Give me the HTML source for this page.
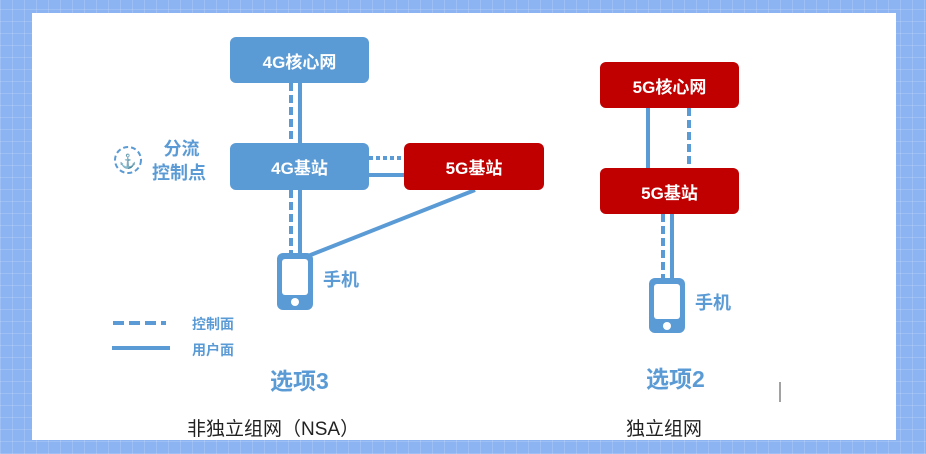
<!DOCTYPE html>
<html><head><meta charset="utf-8"><style>
body{margin:0;width:926px;height:454px;overflow:hidden;background:#8fb5f0;font-family:"Liberation Sans","Noto Sans CJK SC",sans-serif;}
.bg{position:absolute;inset:0;background:
repeating-linear-gradient(0deg,rgba(255,255,255,.15) 0 1px,transparent 1px 12px),
repeating-linear-gradient(90deg,rgba(255,255,255,.15) 0 1px,transparent 1px 12px),#8db4f2;}
.panel{position:absolute;left:32px;top:13px;width:864px;height:427px;background:#fff;}
.box{position:absolute;border-radius:6px;color:#fff;font-weight:bold;font-size:17px;display:flex;align-items:center;justify-content:center;}
.b{background:#5b9bd5}.r{background:#c00000}
.t{position:absolute;color:#5b9bd5;font-weight:bold;white-space:nowrap}
</style></head><body>
<div class="bg"></div>
<div class="panel"></div>
<svg width="926" height="454" style="position:absolute;left:0;top:0">
<g stroke="#5b9bd5" stroke-width="4" fill="none">
<line x1="291" y1="83" x2="291" y2="143" stroke-dasharray="8 4"/>
<line x1="300" y1="83" x2="300" y2="143"/>
<line x1="291" y1="190" x2="291" y2="254" stroke-dasharray="8 4"/>
<line x1="300" y1="190" x2="300" y2="254"/>
<line x1="369" y1="158" x2="404" y2="158" stroke-dasharray="4 3"/>
<line x1="369" y1="175" x2="404" y2="175"/>
<line x1="475" y1="190" x2="308" y2="256"/>
<line x1="648" y1="108" x2="648" y2="168"/>
<line x1="689" y1="108" x2="689" y2="168" stroke-dasharray="8 4"/>
<line x1="663" y1="214" x2="663" y2="280" stroke-dasharray="8 4"/>
<line x1="672" y1="214" x2="672" y2="280"/>
<line x1="113" y1="323" x2="166" y2="323" stroke-dasharray="11 5"/>
<line x1="112" y1="348" x2="170" y2="348"/>
<circle cx="128" cy="160" r="13" stroke-width="2" stroke-dasharray="5 3"/>
</g>
<rect x="277" y="253" width="36" height="57" rx="6" fill="#5b9bd5"/>
<rect x="282" y="259" width="26" height="36" rx="3" fill="#fff"/>
<circle cx="295" cy="302" r="4" fill="#fff"/>
<rect x="649" y="278" width="36" height="55" rx="6" fill="#5b9bd5"/>
<rect x="654" y="284" width="26" height="35" rx="3" fill="#fff"/>
<circle cx="667" cy="326" r="4" fill="#fff"/>
<text x="128" y="166" font-size="14" fill="#a9a0d8" text-anchor="middle">⚓</text>
<line x1="780" y1="382" x2="780" y2="402" stroke="#444" stroke-width="1"/>
</svg>
<div class="box b" style="left:230px;top:37px;width:139px;height:46px">4G核心网</div>
<div class="box b" style="left:230px;top:143px;width:139px;height:47px">4G基站</div>
<div class="box r" style="left:404px;top:143px;width:140px;height:47px">5G基站</div>
<div class="box r" style="left:600px;top:62px;width:139px;height:46px">5G核心网</div>
<div class="box r" style="left:600px;top:168px;width:139px;height:46px">5G基站</div>
<div class="t" style="left:152px;top:137px;font-size:18px;line-height:24px;text-align:center">&nbsp;分流<br>控制点</div>
<div class="t" style="left:323px;top:266px;font-size:18px">手机</div>
<div class="t" style="left:695px;top:289px;font-size:18px">手机</div>
<div class="t" style="left:192px;top:314px;font-size:14px">控制面</div>
<div class="t" style="left:192px;top:340px;font-size:14px">用户面</div>
<div class="t" style="left:270px;top:362px;font-size:23px">选项3</div>
<div class="t" style="left:646px;top:360px;font-size:23px">选项2</div>
<div style="position:absolute;left:187px;top:414px;font-size:19px;color:#222">非独立组网（NSA）</div>
<div style="position:absolute;left:626px;top:414px;font-size:19px;color:#222">独立组网</div>
</body></html>
